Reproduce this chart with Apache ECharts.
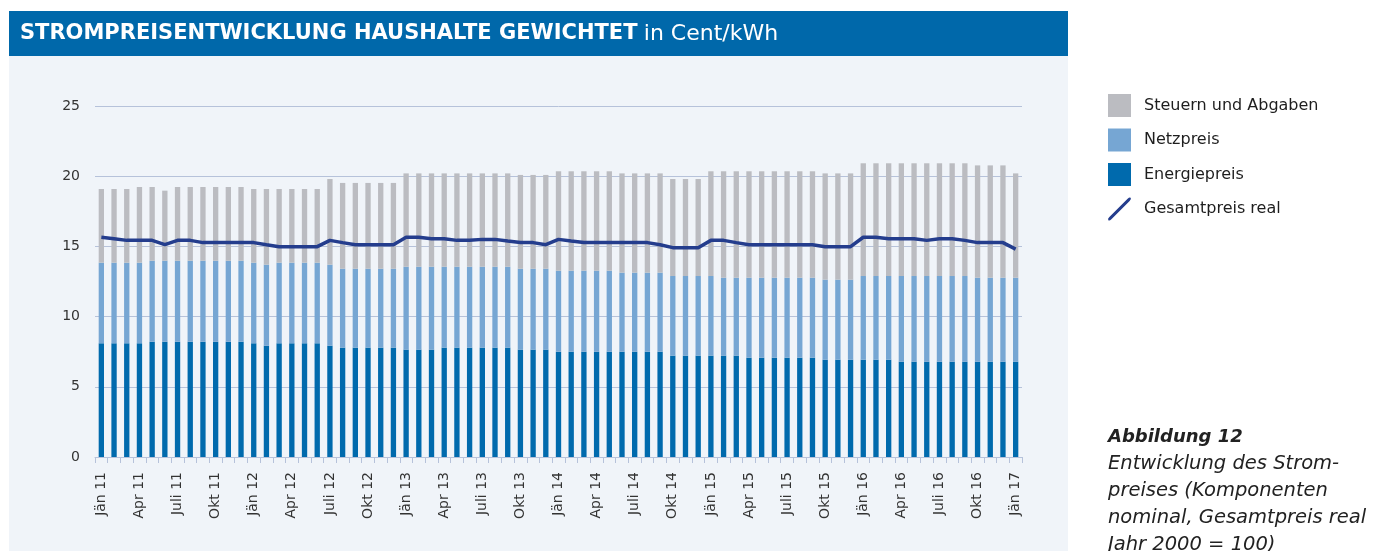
<!DOCTYPE html>
<html>
<head>
<meta charset="utf-8">
<script src="https://cdn.jsdelivr.net/npm/echarts@6/dist/echarts.min.js"></script>
<style>
  html, body { margin: 0; padding: 0; background: #fff; }
  #chart { width: 1384px; height: 551px; }
</style>
</head>
<body>
<div id="chart"></div>
<script>
// Monate Jän 11 bis Jän 17
const months = [
    'Jän 11', 'Feb 11', 'März 11', 'Apr 11', 'Mai 11', 'Juni 11', 'Juli 11', 'Aug 11', 'Sep 11', 'Okt 11', 'Nov 11', 'Dez 11',
    'Jän 12', 'Feb 12', 'März 12', 'Apr 12', 'Mai 12', 'Juni 12', 'Juli 12', 'Aug 12', 'Sep 12', 'Okt 12', 'Nov 12', 'Dez 12',
    'Jän 13', 'Feb 13', 'März 13', 'Apr 13', 'Mai 13', 'Juni 13', 'Juli 13', 'Aug 13', 'Sep 13', 'Okt 13', 'Nov 13', 'Dez 13',
    'Jän 14', 'Feb 14', 'März 14', 'Apr 14', 'Mai 14', 'Juni 14', 'Juli 14', 'Aug 14', 'Sep 14', 'Okt 14', 'Nov 14', 'Dez 14',
    'Jän 15', 'Feb 15', 'März 15', 'Apr 15', 'Mai 15', 'Juni 15', 'Juli 15', 'Aug 15', 'Sep 15', 'Okt 15', 'Nov 15', 'Dez 15',
    'Jän 16', 'Feb 16', 'März 16', 'Apr 16', 'Mai 16', 'Juni 16', 'Juli 16', 'Aug 16', 'Sep 16', 'Okt 16', 'Nov 16', 'Dez 16',
    'Jän 17'
];

const energiepreis = [
    8.10, 8.10, 8.10, 8.10, 8.21, 8.21, 8.21, 8.21, 8.21, 8.21, 8.21, 8.21,
    8.10, 7.93, 8.10, 8.10, 8.10, 8.10, 7.93, 7.79, 7.79, 7.79, 7.79, 7.79,
    7.65, 7.65, 7.65, 7.79, 7.79, 7.79, 7.79, 7.79, 7.79, 7.65, 7.65, 7.65,
    7.50, 7.50, 7.50, 7.50, 7.50, 7.50, 7.50, 7.50, 7.50, 7.22, 7.22, 7.22,
    7.22, 7.22, 7.22, 7.07, 7.07, 7.07, 7.07, 7.07, 7.07, 6.93, 6.93, 6.93,
    6.93, 6.93, 6.93, 6.79, 6.79, 6.79, 6.79, 6.79, 6.79, 6.79, 6.79, 6.79,
    6.79
];

const netzpreis = [
    5.74, 5.74, 5.74, 5.74, 5.77, 5.77, 5.77, 5.77, 5.77, 5.77, 5.77, 5.77,
    5.74, 5.77, 5.74, 5.74, 5.74, 5.74, 5.77, 5.62, 5.62, 5.62, 5.62, 5.62,
    5.90, 5.90, 5.90, 5.76, 5.76, 5.76, 5.76, 5.76, 5.76, 5.76, 5.76, 5.76,
    5.77, 5.77, 5.77, 5.77, 5.77, 5.63, 5.63, 5.63, 5.63, 5.67, 5.67, 5.67,
    5.67, 5.55, 5.55, 5.70, 5.70, 5.70, 5.70, 5.70, 5.70, 5.70, 5.70, 5.70,
    5.96, 5.96, 5.96, 6.10, 6.10, 6.10, 6.10, 6.10, 6.10, 5.98, 5.98, 5.98,
    5.98
];

const steuern = [
    5.25, 5.25, 5.25, 5.39, 5.25, 4.99, 5.25, 5.25, 5.25, 5.25, 5.25, 5.25,
    5.25, 5.39, 5.25, 5.25, 5.25, 5.25, 6.10, 6.11, 6.11, 6.11, 6.11, 6.11,
    6.65, 6.65, 6.65, 6.65, 6.65, 6.65, 6.65, 6.65, 6.65, 6.68, 6.68, 6.68,
    7.08, 7.08, 7.08, 7.08, 7.08, 7.07, 7.07, 7.07, 7.07, 6.91, 6.91, 6.91,
    7.46, 7.58, 7.58, 7.58, 7.58, 7.58, 7.58, 7.58, 7.58, 7.57, 7.57, 7.57,
    8.03, 8.03, 8.03, 8.03, 8.03, 8.03, 8.03, 8.03, 8.03, 8.00, 8.00, 8.00,
    7.43
];

const gesamtReal = [
    15.65, 15.55, 15.43, 15.43, 15.43, 15.12, 15.43, 15.43, 15.27, 15.27, 15.27, 15.27,
    15.27, 15.12, 14.98, 14.98, 14.98, 14.98, 15.43, 15.27, 15.12, 15.12, 15.12, 15.12,
    15.65, 15.65, 15.55, 15.55, 15.43, 15.43, 15.50, 15.50, 15.38, 15.27, 15.27, 15.12,
    15.50, 15.38, 15.27, 15.27, 15.27, 15.27, 15.27, 15.27, 15.12, 14.91, 14.91, 14.91,
    15.43, 15.43, 15.27, 15.12, 15.12, 15.12, 15.12, 15.12, 15.12, 14.98, 14.98, 14.98,
    15.65, 15.65, 15.55, 15.55, 15.55, 15.43, 15.55, 15.55, 15.43, 15.27, 15.27, 15.27,
    14.81
];

const yTicks = { min: 0, max: 25, interval: 5 };

const colors = {
    energie: '#006aad',
    netz: '#76a6d3',
    steuern: '#bbbcc1',
    linie: '#243d8d',
    header: '#0068aa',
    panel: '#f0f4f9',
    grid: '#b6c2da',
    text: '#333333'
};

const font = "'DejaVu Sans', 'Liberation Sans', sans-serif";

const chart = echarts.init(document.getElementById('chart'));

chart.setOption({
    animation: false,
    textStyle: { fontFamily: font },
    graphic: [
        {
            type: 'rect', z: -10, silent: true,
            shape: { x: 9, y: 56, width: 1059, height: 495 },
            style: { fill: colors.panel }
        },
        {
            type: 'rect', z: -10, silent: true,
            shape: { x: 9, y: 11, width: 1059, height: 45 },
            style: { fill: colors.header }
        },
        {
            type: 'text', left: 1108, top: 428, silent: true,
            style: {
                text: '{b|Abbildung 12}\n{i|Entwicklung des Strom-}\n{i|preises (Komponenten}\n{i|nominal, Gesamtpreis real}\n{i|Jahr 2000 = 100)}',
                rich: {
                    b: { fontFamily: font, fontSize: 18, fontStyle: 'italic', fontWeight: 'bold', fill: '#222', lineHeight: 27 },
                    i: { fontFamily: font, fontSize: 19.5, fontStyle: 'italic', fill: '#222', lineHeight: 27 }
                }
            }
        }
    ],
    title: {
        left: 20,
        top: 11,
        padding: 0,
        text: '{b|STROMPREISENTWICKLUNG HAUSHALTE GEWICHTET} {n|in Cent/kWh}',
        textStyle: {
            rich: {
                b: { fontFamily: font, fontSize: 21, fontWeight: 'bold', color: '#fff', lineHeight: 46 },
                n: { fontFamily: font, fontSize: 22, fontWeight: 'normal', color: '#fff', lineHeight: 46 }
            }
        }
    },
    legend: {
        orient: 'vertical',
        left: 1108,
        top: 94,
        padding: 0,
        itemWidth: 23,
        itemHeight: 23,
        itemGap: 11.5,
        selectedMode: false,
        textStyle: { fontFamily: font, fontSize: 16, color: '#1e1e1e', padding: [0, 0, 0, 8] },
        data: [
            { name: 'Steuern und Abgaben', icon: 'rect' },
            { name: 'Netzpreis', icon: 'rect' },
            { name: 'Energiepreis', icon: 'rect' },
            { name: 'Gesamtpreis real', icon: 'path://M1,21 L19,3 Q21,1 22,2 Q23,3 21,5 L3,23 Q1,25 0,24 Q-1,23 1,21 Z' }
        ]
    },
    grid: { left: 95, right: 362, top: 106, bottom: 94 },
    xAxis: {
        type: 'category',
        data: months,
        boundaryGap: true,
        axisLine: { lineStyle: { color: colors.grid, width: 1 } },
        axisTick: { show: true, interval: 0, length: 6, lineStyle: { color: colors.grid } },
        axisLabel: {
            interval: 2,
            rotate: 90,
            margin: 15,
            fontSize: 14,
            color: colors.text,
            fontFamily: font
        },
        splitLine: { show: false }
    },
    yAxis: {
        type: 'value',
        min: yTicks.min,
        max: yTicks.max,
        interval: yTicks.interval,
        axisLine: { show: false },
        axisTick: { show: false },
        axisLabel: { fontSize: 14, color: colors.text, margin: 15, fontFamily: font },
        splitLine: { lineStyle: { color: colors.grid, width: 1 } }
    },
    series: [
        {
            name: 'Energiepreis',
            type: 'bar',
            stack: 'preis',
            barWidth: '42%',
            data: energiepreis,
            itemStyle: { color: colors.energie }
        },
        {
            name: 'Netzpreis',
            type: 'bar',
            stack: 'preis',
            barWidth: '42%',
            data: netzpreis,
            itemStyle: { color: colors.netz }
        },
        {
            name: 'Steuern und Abgaben',
            type: 'bar',
            stack: 'preis',
            barWidth: '42%',
            data: steuern,
            itemStyle: { color: colors.steuern }
        },
        {
            name: 'Gesamtpreis real',
            type: 'line',
            data: gesamtReal,
            symbol: 'none',
            z: 5,
            lineStyle: { color: colors.linie, width: 3.5 },
            itemStyle: { color: colors.linie }
        }
    ]
});
</script>
</body>
</html>
